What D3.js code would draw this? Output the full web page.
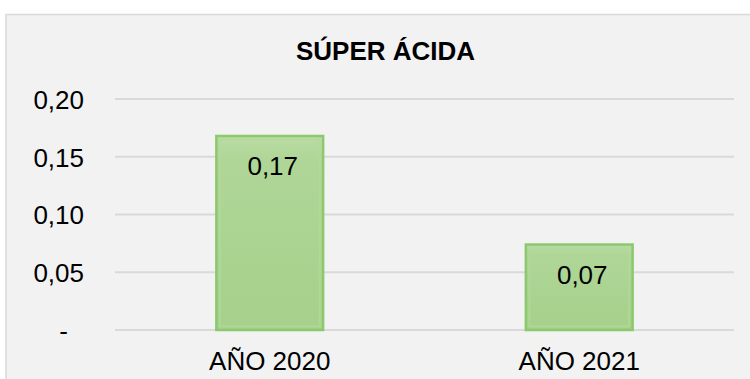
<!DOCTYPE html>
<html>
<head>
<meta charset="utf-8">
<script src="https://cdn.jsdelivr.net/npm/d3@7"></script>
<style>
  html, body { margin: 0; padding: 0; background: #ffffff; }
  svg { display: block; font-family: Arial, "Liberation Sans", sans-serif; }
</style>
</head>
<body>
<svg id="chart" width="750" height="379"></svg>
<script>
// Chart data
const title = "SÚPER ÁCIDA";
const categories = ["AÑO 2020", "AÑO 2021"];
const values = [0.168, 0.074];
const tickValues = [0, 0.05, 0.10, 0.15, 0.20];

const width = 750, height = 379;
const plot = { left: 115, right: 734, top: 99, bottom: 330 };

const svg = d3.select("#chart");

// Chart area background and frame
svg.append("rect")
  .attr("x", 6).attr("y", 14.5)
  .attr("width", 760).attr("height", 380)
  .attr("fill", "#f2f2f2")
  .attr("stroke", "#d9d9d9")
  .attr("stroke-width", 1.5);

const x = d3.scaleBand()
  .domain(categories)
  .range([plot.left, plot.right])
  .paddingInner(0.655)
  .paddingOuter(0.3275);

const y = d3.scaleLinear()
  .domain([0, 0.20])
  .range([plot.bottom, plot.top]);

const fmt = v => v === 0 ? "-" : d3.format(".2f")(v).replace(".", ",");

// Horizontal gridlines
svg.append("g")
  .selectAll("line")
  .data(tickValues)
  .join("line")
  .attr("x1", plot.left).attr("x2", plot.right)
  .attr("y1", d => y(d)).attr("y2", d => y(d))
  .attr("stroke", "#d9d9d9")
  .attr("stroke-width", 2);

// Y axis labels
const yAxis = svg.append("g")
  .attr("transform", `translate(${plot.left},0)`)
  .call(d3.axisLeft(y).tickValues(tickValues).tickFormat(fmt).tickSize(0).tickPadding(31));
yAxis.select(".domain").remove();
yAxis.selectAll("text")
  .attr("font-size", 26)
  .attr("fill", "#000")
  .attr("font-family", "Arial, 'Liberation Sans', sans-serif")
  .attr("dy", "0.36em")
  .attr("dx", d => d === 0 ? -16 : 0);

// Bar gradient
const defs = svg.append("defs");
const grad = defs.append("linearGradient")
  .attr("id", "barFill").attr("x1", 0).attr("y1", 0).attr("x2", 0).attr("y2", 1);
grad.append("stop").attr("offset", "0%").attr("stop-color", "#b9dca3");
grad.append("stop").attr("offset", "12%").attr("stop-color", "#afd697");
grad.append("stop").attr("offset", "100%").attr("stop-color", "#a6d08b");

// Bars
const bars = svg.append("g");
bars.selectAll("rect.bar")
  .data(values)
  .join("rect")
  .attr("class", "bar")
  .attr("x", (d, i) => x(categories[i]))
  .attr("y", d => y(d))
  .attr("width", x.bandwidth())
  .attr("height", d => y(0) - y(d))
  .attr("fill", "url(#barFill)")
  .attr("stroke", "#8cc86c")
  .attr("stroke-width", 2.5);

// Inner bevel highlight
bars.selectAll("rect.bevel")
  .data(values)
  .join("rect")
  .attr("class", "bevel")
  .attr("x", (d, i) => x(categories[i]) + 3.5)
  .attr("y", d => y(d) + 3.5)
  .attr("width", x.bandwidth() - 7)
  .attr("height", d => y(0) - y(d) - 7)
  .attr("fill", "none")
  .attr("stroke", "#b3d99c")
  .attr("stroke-opacity", 0.7)
  .attr("stroke-width", 2);

// Value labels inside bars
svg.append("g")
  .selectAll("text")
  .data(values)
  .join("text")
  .attr("x", (d, i) => x(categories[i]) + x.bandwidth() / 2 + 3)
  .attr("y", d => y(d) + 39.5)
  .attr("text-anchor", "middle")
  .attr("font-size", 26)
  .attr("fill", "#000")
  .text(d => fmt(d));

// Category labels
svg.append("g")
  .selectAll("text")
  .data(categories)
  .join("text")
  .attr("x", d => x(d) + x.bandwidth() / 2)
  .attr("y", 370)
  .attr("text-anchor", "middle")
  .attr("font-size", 26)
  .attr("fill", "#000")
  .text(d => d);

// Title
svg.append("text")
  .attr("x", 385.5)
  .attr("y", 60)
  .attr("text-anchor", "middle")
  .attr("font-size", 26)
  .attr("font-weight", "bold")
  .attr("fill", "#000")
  .text(title);
</script>
</body>
</html>
